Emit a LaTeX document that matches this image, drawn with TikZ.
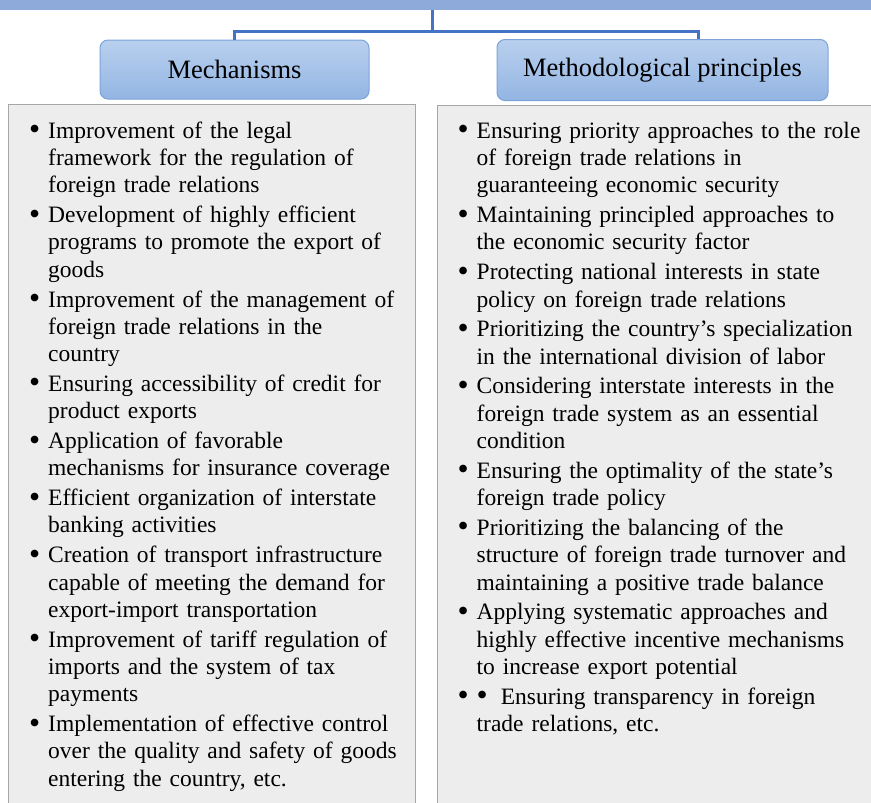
\documentclass[tikz,border=0pt]{standalone}
\usepackage{fontspec}
\usepackage{graphicx}
\setmainfont{Liberation Serif}
\usetikzlibrary{positioning}

\definecolor{barblue}{HTML}{8EAADB}
\definecolor{linkblue}{HTML}{4472C4}
\definecolor{headtop}{HTML}{B9D0EE}
\definecolor{headbot}{HTML}{93B5E3}
\definecolor{headline}{HTML}{7BA3DA}
\definecolor{boxfill}{HTML}{EDEDED}
\definecolor{boxline}{HTML}{A6A6A6}

\newcommand{\bigdot}{\raisebox{-0.06em}{\scalebox{1.35}{\textbullet}}}
\newcommand{\bul}[1]{\par\hangindent=19pt\hangafter=1\noindent\makebox[19pt][l]{\strut\bigdot}#1\par}

\tikzset{
  head/.style={draw=headline, line width=1pt, rounded corners=8pt, top color=headtop, bottom color=headbot, inner sep=0pt, font=\fontsize{26.5}{30}\selectfont},
  panel/.style={draw=boxline, line width=1.2pt, fill=boxfill, anchor=north west, inner sep=0pt},
  items/.style={anchor=north west, inner sep=0pt, text width=#1, font=\fontsize{23.5}{27.3}\selectfont},
  link/.style={draw=linkblue, line width=3pt},
}

\begin{document}
\begin{tikzpicture}[x=1pt, y=1pt]
  \useasboundingbox (0,0) rectangle (871,-803);
  \clip (0,0) rectangle (871,-803);

  \node[fill=barblue, minimum width=890pt, minimum height=9.5pt, inner sep=0pt, anchor=north] (top) at (435.5,0) {};

  \node[head, minimum width=269pt, minimum height=59pt] (mech) at (234.5,-69.5) {Mechanisms};
  \node[head, minimum width=331pt, minimum height=61pt] (meth) at (662.5,-70) {Methodological principles};

  % tree lines
  \coordinate (fork) at (432,-31);
  \draw[link] (top.south -| fork) -- (fork);
  \draw[link] (fork) -| (mech.north);
  \draw[link] (fork) -| ([xshift=35.5pt]meth.north);

  \node[panel, minimum width=407pt, minimum height=720pt] (mechbox) at (8,-104) {};
  \node[panel, minimum width=450pt, minimum height=720pt] (methbox) at (437,-104.5) {};

  \node[items=395pt] (mechlist) at (29,-108.3) {\setlength{\parskip}{2.5pt}%
    \bul{Improvement of the legal\newline framework for the regulation of\newline foreign trade relations}
    \bul{Development of highly efficient\newline programs to promote the export of\newline goods}
    \bul{Improvement of the management of\newline foreign trade relations in the\newline country}
    \bul{Ensuring accessibility of credit for\newline product exports}
    \bul{Application of favorable\newline mechanisms for insurance coverage}
    \bul{Efficient organization of interstate\newline banking activities}
    \bul{Creation of transport infrastructure\newline capable of meeting the demand for\newline export-import transportation}
    \bul{Improvement of tariff regulation of\newline imports and the system of tax\newline payments}
    \bul{Implementation of effective control\newline over the quality and safety of goods\newline entering the country, etc.}};

  \node[items=410pt] (methlist) at (457.5,-108.3) {\setlength{\parskip}{2.5pt}%
    \bul{Ensuring priority approaches to the role\newline of foreign trade relations in\newline guaranteeing economic security}
    \bul{Maintaining principled approaches to\newline the economic security factor}
    \bul{Protecting national interests in state\newline policy on foreign trade relations}
    \bul{Prioritizing the country’s specialization\newline in the international division of labor}
    \bul{Considering interstate interests in the\newline foreign trade system as an essential\newline condition}
    \bul{Ensuring the optimality of the state’s\newline foreign trade policy}
    \bul{Prioritizing the balancing of the\newline structure of foreign trade turnover and\newline maintaining a positive trade balance}
    \bul{Applying systematic approaches and\newline highly effective incentive mechanisms\newline to increase export potential}
    \bul{\bigdot\hspace{13pt}Ensuring transparency in foreign\newline trade relations, etc.}};
\end{tikzpicture}
\end{document}
